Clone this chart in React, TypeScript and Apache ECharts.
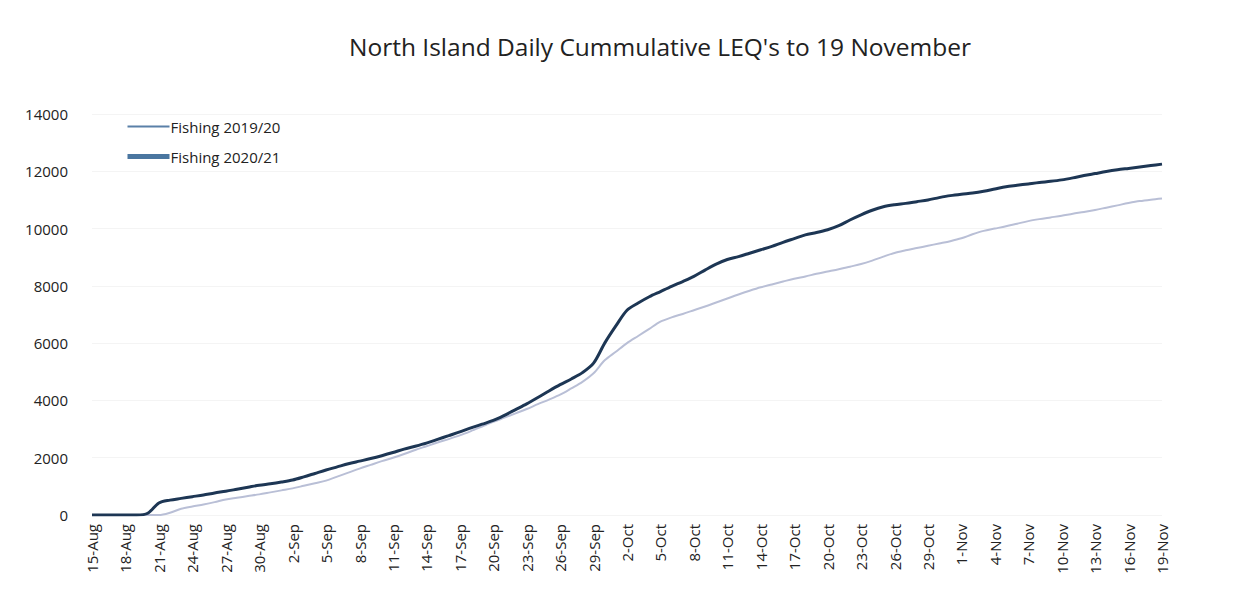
import React, { useEffect, useRef } from "react";
import * as echarts from "echarts";

const TITLE = "North Island Daily Cummulative LEQ's to 19 November";

const dates: string[] = [
  "15-Aug", "16-Aug", "17-Aug", "18-Aug", "19-Aug", "20-Aug", "21-Aug", "22-Aug", "23-Aug", "24-Aug",
  "25-Aug", "26-Aug", "27-Aug", "28-Aug", "29-Aug", "30-Aug", "31-Aug",
  "1-Sep", "2-Sep", "3-Sep", "4-Sep", "5-Sep", "6-Sep", "7-Sep", "8-Sep", "9-Sep", "10-Sep",
  "11-Sep", "12-Sep", "13-Sep", "14-Sep", "15-Sep", "16-Sep", "17-Sep", "18-Sep", "19-Sep", "20-Sep",
  "21-Sep", "22-Sep", "23-Sep", "24-Sep", "25-Sep", "26-Sep", "27-Sep", "28-Sep", "29-Sep", "30-Sep",
  "1-Oct", "2-Oct", "3-Oct", "4-Oct", "5-Oct", "6-Oct", "7-Oct", "8-Oct", "9-Oct", "10-Oct",
  "11-Oct", "12-Oct", "13-Oct", "14-Oct", "15-Oct", "16-Oct", "17-Oct", "18-Oct", "19-Oct", "20-Oct",
  "21-Oct", "22-Oct", "23-Oct", "24-Oct", "25-Oct", "26-Oct", "27-Oct", "28-Oct", "29-Oct", "30-Oct", "31-Oct",
  "1-Nov", "2-Nov", "3-Nov", "4-Nov", "5-Nov", "6-Nov", "7-Nov", "8-Nov", "9-Nov", "10-Nov",
  "11-Nov", "12-Nov", "13-Nov", "14-Nov", "15-Nov", "16-Nov", "17-Nov", "18-Nov", "19-Nov",
];

const fishing2019: number[] = [
  0, 0, 0, 0, 0, 0, 0, 80, 220, 300,
  370, 450, 540, 600, 660, 720, 790,
  860, 930, 1020, 1110, 1200, 1340, 1480, 1620, 1750, 1880,
  2000, 2130, 2270, 2400, 2530, 2650, 2780, 2930, 3090, 3250,
  3400, 3550, 3700, 3870, 4030, 4200, 4420, 4650, 4950, 5400,
  5700, 6000, 6250, 6500, 6750, 6900, 7020, 7150, 7280, 7420,
  7560, 7700, 7830, 7950, 8050, 8150, 8250, 8330, 8420, 8500,
  8580, 8670, 8760, 8880, 9020, 9150, 9240, 9320, 9400, 9480, 9560,
  9660, 9800, 9920, 10000, 10080, 10170, 10260, 10330, 10390, 10450,
  10520, 10580, 10650, 10730, 10810, 10890, 10960, 11010, 11050,
];

const fishing2020: number[] = [
  0, 0, 0, 0, 0, 60, 420, 520, 580, 640,
  700, 770, 830, 900, 970, 1040, 1090,
  1150, 1220, 1330, 1450, 1570, 1680, 1790, 1880, 1970, 2070,
  2180, 2300, 2400, 2510, 2640, 2770, 2900, 3040, 3170, 3300,
  3480, 3680, 3880, 4100, 4330, 4550, 4750, 4970, 5300, 6000,
  6600, 7150, 7400, 7620, 7800, 7980, 8150, 8330, 8550, 8760,
  8920, 9020, 9140, 9260, 9380, 9520, 9650, 9780, 9860, 9960,
  10100, 10300, 10480, 10640, 10760, 10830, 10880, 10940, 11000, 11080, 11150,
  11200, 11240, 11300, 11380, 11460, 11510, 11560, 11610, 11650, 11700,
  11770, 11850, 11920, 11990, 12050, 12100, 12150, 12200, 12250,
];

const SERIES_NAMES = ["Fishing 2019/20", "Fishing 2020/21"];

const FONT = "'Open Sans', 'Noto Sans', sans-serif";

export default function App() {
  const ref = useRef<HTMLDivElement>(null);

  useEffect(() => {
    if (!ref.current) return;
    const chart = echarts.init(ref.current, null, { renderer: "svg" });
    const hidden = { color: "transparent", borderColor: "transparent", borderWidth: 0 };
    chart.setOption({
      animation: false,
      backgroundColor: "#ffffff",
      title: {
        text: TITLE,
        left: 336,
        top: 21,
        textStyle: { fontFamily: FONT, fontSize: 24.5, fontWeight: "normal", color: "#222222" },
      },
      legend: {
        orient: "vertical",
        left: 112,
        top: 106,
        itemWidth: 42,
        itemHeight: 14,
        itemGap: 15,
        textStyle: { fontFamily: FONT, fontSize: 15, color: "#222222", padding: [0, 0, 0, -4] },
        data: [
          { name: SERIES_NAMES[0], itemStyle: hidden, lineStyle: { color: "#5a80a8", width: 2 } },
          { name: SERIES_NAMES[1], itemStyle: hidden, lineStyle: { color: "#4a76a0", width: 5 } },
        ],
      },
      grid: { left: 84, right: 77, top: 106, bottom: 90, containLabel: false },
      xAxis: {
        type: "category",
        data: dates,
        boundaryGap: false,
        axisLine: { show: false },
        axisTick: { show: false },
        axisLabel: {
          interval: 2,
          rotate: 90,
          margin: 9,
          fontFamily: FONT,
          fontSize: 15,
          color: "#222222",
        },
        splitLine: { show: false },
      },
      yAxis: {
        type: "value",
        min: 0,
        max: 14000,
        interval: 2000,
        axisLine: { show: false },
        axisTick: { show: false },
        axisLabel: {
          margin: 24,
          fontFamily: FONT,
          fontSize: 15,
          color: "#222222",
          formatter: (v: number) => String(v),
        },
        splitLine: { show: true, lineStyle: { color: "#f4f4f4", width: 1 } },
      },
      series: [
        {
          name: SERIES_NAMES[0],
          type: "line",
          data: fishing2019,
          symbol: "none",
          smooth: 0.3,
          lineStyle: { color: "#b9bfd6", width: 2 },
          itemStyle: { color: "#b9bfd6" },
          z: 2,
        },
        {
          name: SERIES_NAMES[1],
          type: "line",
          data: fishing2020,
          symbol: "none",
          smooth: 0.3,
          lineStyle: { color: "#1d3654", width: 3 },
          itemStyle: { color: "#1d3654" },
          z: 3,
        },
      ],
    });
    return () => chart.dispose();
  }, []);

  return <div ref={ref} style={{ width: 1231, height: 597 }} />;
}
